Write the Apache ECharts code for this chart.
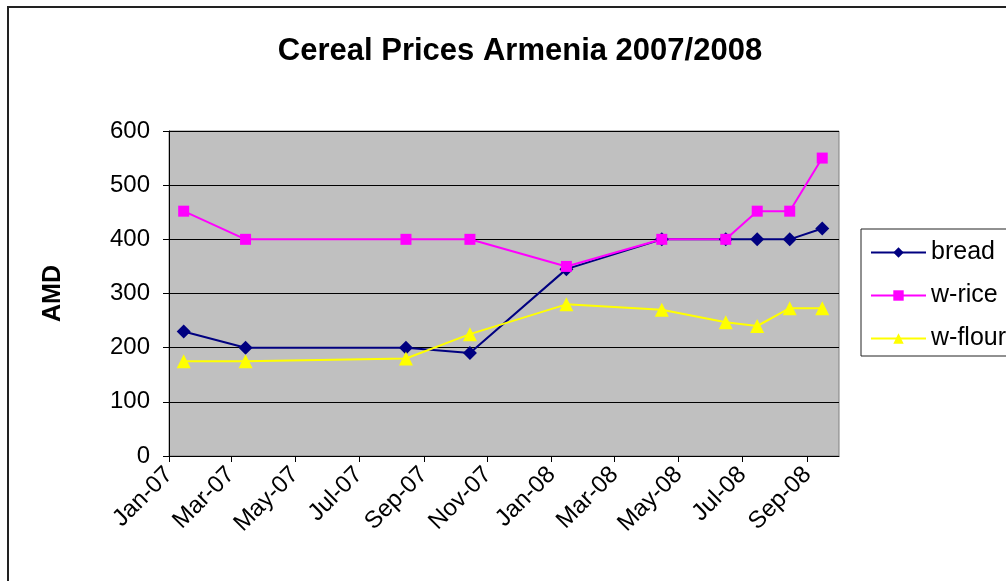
<!DOCTYPE html>
<html>
<head>
<meta charset="utf-8">
<script src="https://cdn.jsdelivr.net/npm/echarts@6/dist/echarts.min.js"></script>
<style>
  html, body { margin: 0; padding: 0; background: #fff; }
  #chart { width: 1006px; height: 581px; }
</style>
</head>
<body>
<div id="chart"></div>
<script>
// observation dates (mid-month)
const dates = ['2007-01-15', '2007-03-15', '2007-08-15', '2007-10-15', '2008-01-15',
  '2008-04-15', '2008-06-15', '2008-07-15', '2008-08-15', '2008-09-15'];
const bread = [230, 200, 200, 190, 345, 400, 400, 400, 400, 420];
const wRice = [452, 400, 400, 400, 350, 400, 400, 452, 452, 550];
const wFlour = [175, 175, 180, 225, 280, 270, 247, 240, 273, 273];

// x tick labels, every second month
const tickMonths = ['2007-01-01', '2007-03-01', '2007-05-01', '2007-07-01', '2007-09-01', '2007-11-01',
  '2008-01-01', '2008-03-01', '2008-05-01', '2008-07-01', '2008-09-01'];
const yTicks = [0, 100, 200, 300, 400, 500, 600];

const monthNames = ['Jan', 'Feb', 'Mar', 'Apr', 'May', 'Jun', 'Jul', 'Aug', 'Sep', 'Oct', 'Nov', 'Dec'];
// date string -> timestamp (UTC, so no timezone drift)
const toTime = (s) => {
  const p = s.split('-').map(Number);
  return Date.UTC(p[0], p[1] - 1, p[2]);
};
const pairs = (vals) => vals.map((v, i) => [toTime(dates[i]), v]);

const FONT = '"Liberation Sans", Arial, sans-serif';

const myChart = echarts.init(document.getElementById('chart'));

const option = {
  animation: false,
  textStyle: { fontFamily: FONT },
  title: {
    text: 'Cereal Prices Armenia 2007/2008',
    left: 515,
    textAlign: 'center',
    top: 31,
    textStyle: { fontFamily: FONT, fontSize: 31, fontWeight: 'bold', color: '#000' }
  },
  graphic: [
    // outer chart frame
    { type: 'rect', shape: { x: 8, y: 7, width: 1020, height: 600 }, style: { fill: 'none', stroke: '#222', lineWidth: 2 }, z: -1 },
    // legend frame
    { type: 'rect', shape: { x: 861, y: 229, width: 170, height: 127 }, style: { fill: '#fff', stroke: '#222', lineWidth: 1 }, z: 0 }
  ],
  legend: {
    orient: 'vertical',
    left: 870,
    top: 240,
    itemWidth: 55,
    itemHeight: 13,
    itemGap: 18,
    padding: 0,
    z: 5,
    textStyle: { fontSize: 25, lineHeight: 25, color: '#000', fontFamily: FONT },
    data: ['bread', 'w-rice', 'w-flour']
  },
  grid: {
    left: 169,
    right: 167,
    top: 131,
    bottom: 125,
    show: true,
    backgroundColor: '#c0c0c0',
    borderColor: '#808080',
    borderWidth: 1
  },
  xAxis: {
    type: 'value',
    min: toTime('2007-01-01'),
    max: toTime('2008-10-01'),
    axisLine: { lineStyle: { color: '#000', width: 1 } },
    axisTick: { show: true, inside: false, length: 6, lineStyle: { color: '#000' }, customValues: tickMonths.map(toTime) },
    splitLine: { show: false },
    axisLabel: {
      customValues: tickMonths.map(toTime),
      rotate: 45,
      margin: 15,
      fontSize: 24,
      color: '#000',
      fontFamily: FONT,
      formatter: (value) => {
        const d = new Date(value);
        return monthNames[d.getUTCMonth()] + '-' + String(d.getUTCFullYear()).slice(2);
      }
    }
  },
  yAxis: {
    type: 'value',
    min: 0,
    max: 600,
    interval: 100,
    name: 'AMD',
    nameLocation: 'middle',
    nameRotate: 90,
    nameGap: 103,
    nameTextStyle: { fontSize: 25, fontWeight: 'bold', color: '#000', fontFamily: FONT },
    axisLine: { show: true, lineStyle: { color: '#000', width: 1 } },
    axisTick: { show: true, inside: false, length: 6, lineStyle: { color: '#000' } },
    splitLine: { show: true, lineStyle: { color: '#000', width: 1 } },
    axisLabel: {
      fontSize: 24,
      color: '#000',
      fontFamily: FONT,
      margin: 19,
      formatter: (v) => (yTicks.includes(v) ? String(v) : '')
    }
  },
  series: [
    {
      name: 'bread',
      type: 'line',
      data: pairs(bread),
      symbol: 'diamond',
      symbolSize: 14,
      lineStyle: { color: '#000080', width: 2 },
      itemStyle: { color: '#000080' }
    },
    {
      name: 'w-rice',
      type: 'line',
      data: pairs(wRice),
      symbol: 'rect',
      symbolSize: 11,
      lineStyle: { color: '#ff00ff', width: 2 },
      itemStyle: { color: '#ff00ff' }
    },
    {
      name: 'w-flour',
      type: 'line',
      data: pairs(wFlour),
      symbol: 'triangle',
      symbolSize: 14,
      lineStyle: { color: '#ffff00', width: 2 },
      itemStyle: { color: '#ffff00' }
    }
  ]
};

myChart.setOption(option);
</script>
</body>
</html>
